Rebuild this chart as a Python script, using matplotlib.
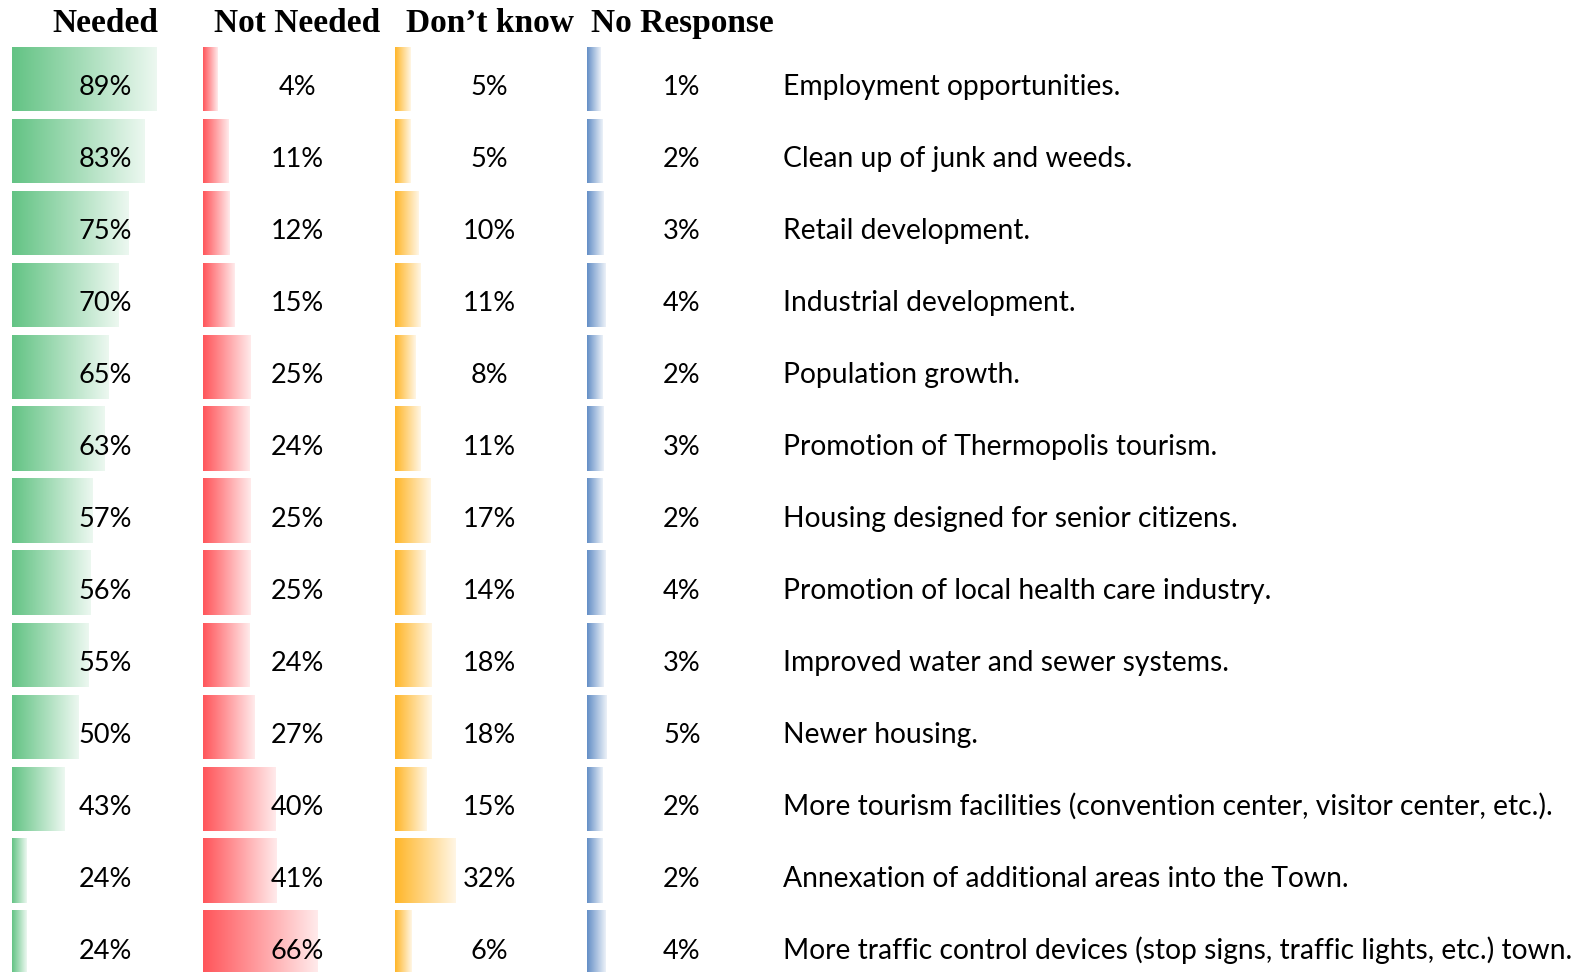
import numpy as np
import matplotlib.pyplot as plt
from matplotlib.colors import to_rgb

items = [
    "Employment opportunities.",
    "Clean up of junk and weeds.",
    "Retail development.",
    "Industrial development.",
    "Population growth.",
    "Promotion of Thermopolis tourism.",
    "Housing designed for senior citizens.",
    "Promotion of local health care industry.",
    "Improved water and sewer systems.",
    "Newer housing.",
    "More tourism facilities (convention center, visitor center, etc.).",
    "Annexation of additional areas into the Town.",
    "More traffic control devices (stop signs, traffic lights, etc.) town.",
]
headers = ["Needed", "Not Needed", "Don\u2019t know", "No Response"]
needed = [89, 83, 75, 70, 65, 63, 57, 56, 55, 50, 43, 24, 24]
not_needed = [4, 11, 12, 15, 25, 24, 25, 25, 24, 27, 40, 41, 66]
dont_know = [5, 5, 10, 11, 8, 11, 17, 14, 18, 18, 15, 32, 6]
no_response = [1, 2, 3, 4, 2, 3, 2, 4, 3, 5, 2, 2, 4]

colors = ["#63C384", "#FF555A", "#FFB628", "#638EC6"]

W, H = 1581, 972
fig = plt.figure(figsize=(W / 100, H / 100), dpi=100)

# data-bar style scaling per column: left pixel, text centre pixel, px per point, axis low
cols = [
    (12, 105.5, 2.015, 17.05),
    (203, 297.5, 1.613, -4.68),
    (395, 489.5, 1.667, -4.0),
    (587, 682.0, 1.5, -8.33),
]
pitch = 72.0
first_center = 78.85
ylim = ((H - first_center) / pitch, -first_center / pitch)
bar_h = 64 / pitch
text_dy = 16.15 / pitch
rows = np.arange(len(items))


def gradient_bar(ax, y, lo, v, color):
    c = np.array(to_rgb(color))
    light = c + (1 - c) * 0.88
    t = np.linspace(0, 1, 256)[None, :, None]
    img = c[None, None, :] * (1 - t) + light[None, None, :] * t
    ax.imshow(img, extent=(lo, v, y + bar_h / 2, y - bar_h / 2),
              aspect="auto", interpolation="bilinear", zorder=1)


for k, vals in enumerate([needed, not_needed, dont_know, no_response]):
    left, centre, s, lo = cols[k]
    w = 2 * (centre - left)
    ax = fig.add_axes([left / W, 0, w / W, 1])
    ax.barh(rows, np.array(vals) - lo, left=lo, height=bar_h,
            color="none", edgecolor="none")
    for y, v in zip(rows, vals):
        gradient_bar(ax, y, lo, v, colors[k])
        ax.text(0.5, y + text_dy, f"{v}%", transform=ax.get_yaxis_transform(),
                ha="center", va="baseline", fontsize=19.5, family="Lato",
                color="black", zorder=3)
    ax.set_xlim(lo, lo + w / s)
    ax.set_ylim(*ylim)
    ax.axis("off")
    fig.text(centre / W, 1 - 31.7 / H, headers[k], ha="center", va="baseline",
             fontsize=24, family="Liberation Serif", fontweight="bold")

lab = fig.add_axes([783 / W, 0, 1 - 783 / W, 1])
for y, name in zip(rows, items):
    lab.text(0, y + text_dy, name, ha="left", va="baseline", fontsize=20.3,
             family="Lato", color="black")
lab.set_xlim(0, 1)
lab.set_ylim(*ylim)
lab.axis("off")

fig.savefig("out.png", dpi=100)
